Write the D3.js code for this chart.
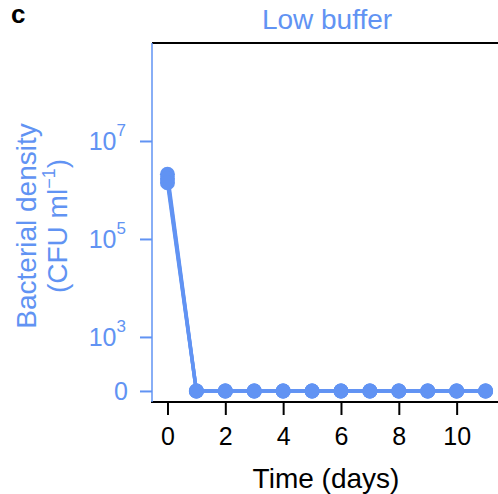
<!DOCTYPE html>
<html>
<head>
<meta charset="utf-8">
<script src="https://cdn.jsdelivr.net/npm/d3@7"></script>
<style>
  body { margin: 0; background: #fff; }
  svg { display: block; font-family: "Liberation Sans", Arial, sans-serif; }
</style>
</head>
<body>
<svg></svg>
<script>
// data
const days = [0, 1, 2, 3, 4, 5, 6, 7, 8, 9, 10, 11]
const rep1 = [2.1e6, 0, 0, 0, 0, 0, 0, 0, 0, 0, 0, 0]
const rep2 = [1.7e6, 0, 0, 0, 0, 0, 0, 0, 0, 0, 0, 0]
const rep3 = [1.4e6, 0, 0, 0, 0, 0, 0, 0, 0, 0, 0, 0]
const xTicks = [0, 2, 4, 6, 8, 10]
const yTicks = [1e3, 1e5, 1e7]
const yTickExp = ['3', '5', '7']
const zeroValue = 79   // where "0" sits on the log axis

let width = 498
let height = 494
let blue = '#6193F3'

let svg = d3.select('svg')
svg.attr('width', width).attr('height', height)

let xScale = d3.scaleLinear()
               .domain([-0.535, 11.43])
               .range([152, 498])

let yScale = d3.scaleLog()
               .domain([47, 1e9])
               .range([402, 43])

let yOf = (v) => yScale(v === 0 ? zeroValue : v)

// panel letter and title
svg.append('text')
   .attr('x', 11).attr('y', 23)
   .attr('font-size', 26).attr('font-weight', 'bold')
   .attr('fill', '#000')
   .text('c')

svg.append('text')
   .attr('x', 327).attr('y', 29)
   .attr('text-anchor', 'middle')
   .attr('font-size', 28)
   .attr('fill', blue)
   .text('Low buffer')

// top frame line
svg.append('line')
   .attr('x1', 152).attr('x2', 498)
   .attr('y1', 43).attr('y2', 43)
   .attr('stroke', '#000').attr('stroke-width', 2)

// x axis
let xAxis = d3.axisBottom(xScale)
              .tickValues(xTicks)
              .tickSize(13)
              .tickFormat(d3.format('d'))

let gx = svg.append('g')
   .attr('transform', 'translate(0,402)')
   .call(xAxis)
gx.select('.domain').remove()
gx.selectAll('line').attr('stroke', '#000').attr('stroke-width', 2)
gx.selectAll('text')
  .attr('y', 43).attr('dy', null)
  .attr('font-size', 25).attr('fill', '#000')
  .attr('font-family', '"Liberation Sans", Arial, sans-serif')

svg.append('line')
   .attr('x1', 151).attr('x2', 498)
   .attr('y1', 402).attr('y2', 402)
   .attr('stroke', '#000').attr('stroke-width', 2)

svg.append('text')
   .attr('x', 326).attr('y', 488)
   .attr('text-anchor', 'middle')
   .attr('font-size', 28)
   .attr('fill', '#000')
   .text('Time (days)')

// y axis
let yAxis = d3.axisLeft(yScale)
              .tickValues(yTicks.concat([zeroValue]))
              .tickSize(12)
              .tickFormat('')

let gy = svg.append('g')
   .attr('transform', 'translate(152,0)')
   .call(yAxis)
gy.select('.domain').remove()
gy.selectAll('line').attr('stroke', blue).attr('stroke-width', 2)

svg.append('line')
   .attr('x1', 152).attr('x2', 152)
   .attr('y1', 43).attr('y2', 402)
   .attr('stroke', blue).attr('stroke-width', 1.5)

yTicks.forEach((v, i) => {
    let t = svg.append('text')
       .attr('x', 126).attr('y', yScale(v) + 9)
       .attr('text-anchor', 'end')
       .attr('font-size', 25)
       .attr('fill', blue)
    t.append('tspan').text('10')
    t.append('tspan').attr('dy', -14).attr('font-size', 17).text(yTickExp[i])
})

svg.append('text')
   .attr('x', 128).attr('y', yScale(zeroValue) + 9)
   .attr('text-anchor', 'end')
   .attr('font-size', 25)
   .attr('fill', blue)
   .text('0')

let yLab = svg.append('g')
   .attr('transform', 'translate(0,226) rotate(-90)')
yLab.append('text')
   .attr('x', 0).attr('y', 36)
   .attr('text-anchor', 'middle')
   .attr('font-size', 28)
   .attr('fill', blue)
   .text('Bacterial density')
let l2 = yLab.append('text')
   .attr('x', 0).attr('y', 67)
   .attr('text-anchor', 'middle')
   .attr('font-size', 28)
   .attr('fill', blue)
l2.append('tspan').text('(CFU ml')
l2.append('tspan').attr('dy', -12).attr('font-size', 18).text('\u22121')
l2.append('tspan').attr('dy', 12).text(')')

// series
let line = d3.line()
             .x((d, i) => xScale(days[i]))
             .y((d) => yOf(d))

let series = [rep1, rep2, rep3]

svg.selectAll('path.rep')
   .data(series)
   .enter()
   .append('path')
   .attr('class', 'rep')
   .attr('d', (s) => line(s))
   .attr('fill', 'none')
   .attr('stroke', blue)
   .attr('stroke-width', 3.5)

series.forEach((s) => {
    svg.append('g')
       .selectAll('circle')
       .data(s)
       .enter()
       .append('circle')
       .attr('cx', (d, i) => xScale(days[i]))
       .attr('cy', (d) => yOf(d))
       .attr('r', 7.5)
       .attr('fill', blue)
})
</script>
</body>
</html>
